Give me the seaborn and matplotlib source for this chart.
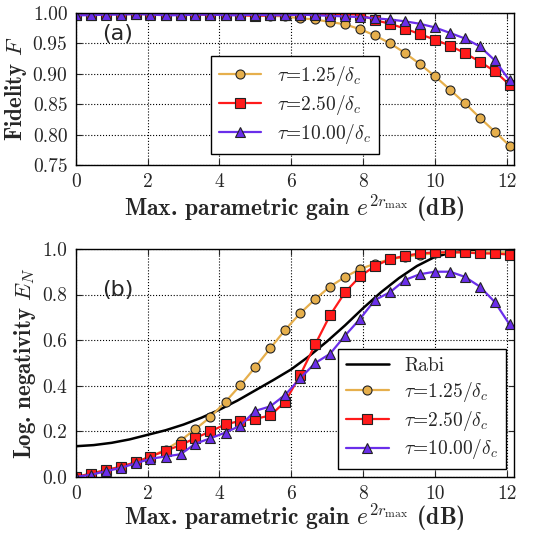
import numpy as np
import pandas as pd
import matplotlib
matplotlib.use("Agg")
import matplotlib.pyplot as plt
import seaborn as sns

sns.set_style("ticks", {"axes.grid": True, "grid.color": "black", "grid.linestyle": ":",
                        "axes.edgecolor": "black", "xtick.direction": "in", "ytick.direction": "in"})
plt.rcParams["font.family"] = ["cmr10", "DejaVu Serif"]
plt.rcParams["mathtext.fontset"] = "cm"
plt.rcParams["axes.formatter.use_mathtext"] = False
plt.rcParams["axes.unicode_minus"] = False

# gain values (dB)
gain = [0.00, 0.42, 0.83, 1.25, 1.67, 2.08, 2.50, 2.92, 3.33, 3.75,
        4.17, 4.58, 5.00, 5.42, 5.83, 6.25, 6.67, 7.08, 7.50, 7.92,
        8.33, 8.75, 9.17, 9.58, 10.00, 10.42, 10.83, 11.25, 11.67, 12.08]

# (a) fidelity
fid_125 = [0.997, 0.997, 0.998, 0.998, 0.998, 0.998, 0.997, 0.997, 0.997, 0.997,
           0.997, 0.996, 0.996, 0.995, 0.994, 0.991, 0.989, 0.985, 0.981, 0.973,
           0.963, 0.950, 0.934, 0.916, 0.896, 0.874, 0.852, 0.828, 0.805, 0.782]
fid_250 = [0.997, 0.997, 0.998, 0.998, 0.998, 0.998, 0.997, 0.997, 0.997, 0.997,
           0.997, 0.996, 0.995, 0.996, 0.996, 0.997, 0.998, 0.998, 0.998, 0.997,
           0.988, 0.982, 0.974, 0.965, 0.956, 0.946, 0.934, 0.920, 0.904, 0.882]
fid_1000 = [0.996, 0.996, 0.997, 0.997, 0.998, 0.997, 0.996, 0.996, 0.997, 0.997,
            0.996, 0.996, 0.997, 0.996, 0.996, 0.997, 0.996, 0.995, 0.994, 0.993,
            0.991, 0.989, 0.986, 0.982, 0.976, 0.967, 0.958, 0.945, 0.922, 0.889]

# (b) log. negativity
en_125 = [0.000, 0.015, 0.030, 0.045, 0.065, 0.090, 0.120, 0.160, 0.210, 0.263,
          0.330, 0.402, 0.482, 0.565, 0.645, 0.718, 0.780, 0.835, 0.877, 0.912,
          0.935, 0.955, 0.965, 0.975, 0.980, 0.985, 0.985, 0.985, 0.985, 0.985]
en_250 = [0.000, 0.015, 0.030, 0.045, 0.065, 0.090, 0.115, 0.140, 0.171, 0.200,
          0.231, 0.246, 0.255, 0.270, 0.330, 0.447, 0.582, 0.709, 0.810, 0.880,
          0.925, 0.955, 0.970, 0.980, 0.985, 0.985, 0.985, 0.980, 0.980, 0.975]
en_1000 = [0.000, 0.010, 0.025, 0.040, 0.060, 0.080, 0.090, 0.100, 0.146, 0.170,
           0.195, 0.225, 0.290, 0.310, 0.360, 0.433, 0.500, 0.540, 0.620, 0.694,
           0.776, 0.810, 0.864, 0.889, 0.900, 0.900, 0.878, 0.835, 0.767, 0.669]

rabi_gain = [0.0, 0.5, 1.0, 1.5, 2.0, 2.5, 3.0, 3.5, 4.0, 4.5, 5.0, 5.5, 6.0,
             6.5, 7.0, 7.5, 8.0, 8.5, 9.0, 9.5, 10.0, 10.5, 11.0, 11.5, 12.0, 12.2]
rabi_en = [0.135, 0.140, 0.150, 0.165, 0.185, 0.205, 0.230, 0.260, 0.295, 0.335,
           0.380, 0.425, 0.472, 0.530, 0.595, 0.665, 0.740, 0.810, 0.872, 0.925,
           0.965, 0.985, 0.995, 1.000, 1.000, 1.000]

xticks = [0, 2, 4, 6, 8, 10, 12]
yticks_a = ["0.75", "0.80", "0.85", "0.90", "0.95", "1.00"]
yticks_b = ["0.0", "0.2", "0.4", "0.6", "0.8", "1.0"]

labels = [r"$\tau$=1.25/$\delta_c$", r"$\tau$=2.50/$\delta_c$", r"$\tau$=10.00/$\delta_c$"]
colors = ["#E6AF4C", "#FF1A1A", "#6A2EEA"]
markers = ["o", "s", "^"]

fig = plt.figure(figsize=(5.49, 5.33), dpi=100)
ax1 = fig.add_axes([0.138, 0.690, 0.798, 0.286])
ax2 = fig.add_axes([0.138, 0.105, 0.798, 0.428])

xlabel = r"Max. parametric gain $e^{2r_{\rm max}}$ (dB)"
tick_font = {"family": "cmr10", "size": 14}

def style(ax, yt, lp):
    ax.tick_params(direction="in", top=True, right=True, length=4, pad=6)
    ax.grid(True, color="black", linestyle=":", linewidth=0.8)
    for s in ax.spines.values():
        s.set_linewidth(1.0)
        s.set_color("black")
    ax.set_xlim(0, 12.2)
    ax.set_xticks(xticks)
    ax.set_xticklabels([str(t) for t in xticks], fontdict=tick_font)
    ax.set_yticks([float(t) for t in yt])
    ax.set_yticklabels(yt, fontdict=tick_font)
    ax.set_xlabel(xlabel, fontsize=17, family=["cmb10"], labelpad=lp)

for ys, lab, c, m in zip([fid_125, fid_250, fid_1000], labels, colors, markers):
    sns.lineplot(x=gain, y=ys, ax=ax1, color=c, marker=m, markersize=6.5,
                 markeredgecolor="#222222", markeredgewidth=0.8, linewidth=1.6, label=lab)
ax1.set_ylim(0.75, 1.0)
style(ax1, yticks_a, 1)
ax1.set_ylabel(r"Fidelity $F$", fontsize=16.5, family=["cmb10"], labelpad=3)
ax1.text(0.06, 0.86, "(a)", transform=ax1.transAxes, fontsize=16,
         family=["DejaVu Sans"], va="center")
leg1 = ax1.legend(loc="lower center", fontsize=14, frameon=True, fancybox=False,
                  edgecolor="black", framealpha=1, borderaxespad=0.6, handlelength=2.2,
                  labelspacing=0.25, borderpad=0.4)
leg1.get_frame().set_linewidth(1.0)

sns.lineplot(x=rabi_gain, y=rabi_en, ax=ax2, color="black", linewidth=1.8, label="Rabi")
for ys, lab, c, m in zip([en_125, en_250, en_1000], labels, colors, markers):
    sns.lineplot(x=gain, y=ys, ax=ax2, color=c, marker=m, markersize=6.5,
                 markeredgecolor="#222222", markeredgewidth=0.8, linewidth=1.6, label=lab)
ax2.set_ylim(0, 1.0)
style(ax2, yticks_b, -1)
ax2.set_ylabel(r"Log. negativity $E_N$", fontsize=16.5, family=["cmb10"], labelpad=3)
ax2.text(0.06, 0.82, "(b)", transform=ax2.transAxes, fontsize=16,
         family=["DejaVu Sans"], va="center")
leg2 = ax2.legend(loc="lower right", fontsize=14, frameon=True, fancybox=False,
                  edgecolor="black", framealpha=1, borderaxespad=0.4, handlelength=2.2,
                  labelspacing=0.25, borderpad=0.4)
leg2.get_frame().set_linewidth(1.0)

fig.savefig("out.png", dpi=100)
